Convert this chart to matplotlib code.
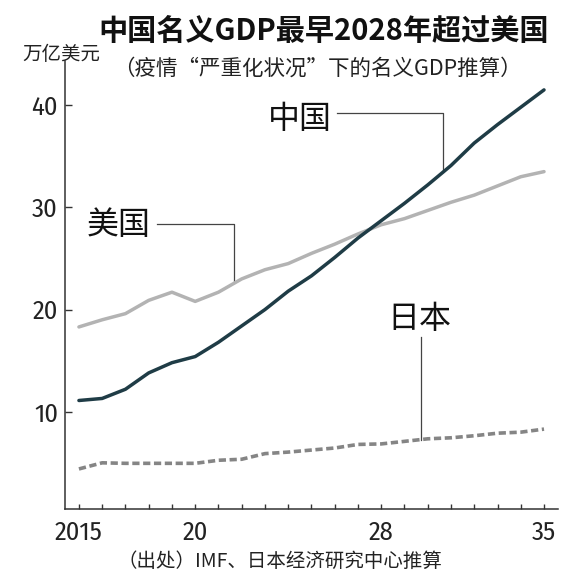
import numpy as np
import matplotlib
matplotlib.use("Agg")
import matplotlib.pyplot as plt
from matplotlib import font_manager as fm

plt.rcParams['font.family'] = ['Noto Sans CJK SC', 'DejaVu Sans']

years = list(range(2015, 2036))
china = [11.1, 11.3, 12.2, 13.8, 14.8, 15.4, 16.8, 18.4, 20.0, 21.8, 23.3,
         25.1, 27.0, 28.7, 30.4, 32.2, 34.1, 36.3, 38.1, 39.8, 41.5]
usa = [18.3, 19.0, 19.6, 20.9, 21.7, 20.8, 21.7, 23.0, 23.9, 24.5, 25.5,
       26.4, 27.4, 28.3, 28.9, 29.7, 30.5, 31.2, 32.1, 33.0, 33.5]
japan = [4.4, 5.0, 4.95, 4.95, 4.95, 4.95, 5.25, 5.35, 5.9, 6.05, 6.25,
         6.45, 6.8, 6.85, 7.1, 7.35, 7.45, 7.65, 7.9, 8.0, 8.3]

series_names = ['中国', '美国', '日本']
yticks = [10, 20, 30, 40]
xtick_pos = [2015, 2020, 2028, 2035]
xtick_labels = ['2015', '20', '28', '35']

title = '中国名义GDP最早2028年超过美国'
subtitle = '（疫情“严重化状况”下的名义GDP推算）'
unit = '万亿美元'
source = '（出处）IMF、日本经济研究中心推算'

available = {f.name for f in fm.fontManager.ttflist}
narrow_pref = ['Fira Sans Condensed', 'PT Sans Narrow', 'Roboto Condensed',
               'Liberation Sans Narrow', 'Archivo Narrow', 'Encode Sans Condensed']
narrow = next((n for n in narrow_pref if n in available), 'DejaVu Sans')
tick_font = [narrow, 'DejaVu Sans']

fig = plt.figure(figsize=(5.76, 5.82), dpi=100)
ax = fig.add_axes([0.1128, 0.1249, 0.8559, 0.7698])

c_china = '#1f3c46'
c_us = '#b3b3b3'
c_jp = '#858585'

ax.plot(years, usa, color=c_us, lw=2.5, solid_capstyle='round', zorder=3)
ax.plot(years, china, color=c_china, lw=2.5, solid_capstyle='round', zorder=4)
ax.plot(years, japan, color=c_jp, lw=2.6, dashes=(2.0, 1.0), zorder=3)

ax.set_xlim(2014.40, 2035.60)
ax.set_ylim(0.45, 44.3)

for s in ['top', 'right']:
    ax.spines[s].set_visible(False)
for s in ['left', 'bottom']:
    ax.spines[s].set_color('#333333')
    ax.spines[s].set_linewidth(1.1)

ax.set_xticks(years, minor=True)
ax.set_xticks(xtick_pos)
ax.set_xticklabels(xtick_labels, family=tick_font, fontsize=19, color='#222222')
ax.set_yticks(yticks)
ax.set_yticklabels([str(v) for v in yticks], family=tick_font, fontsize=19, color='#222222')
ax.tick_params(axis='x', which='both', direction='in', length=3.8, width=1.0,
               color='#333333', pad=8)
ax.tick_params(axis='y', which='both', direction='in', length=5, width=1.0,
               color='#333333', pad=5)

lead = dict(color='#444444', lw=0.9, zorder=2)
label_kw = dict(fontsize=23, fontweight='light', ha='center', va='center', color='#111111')

# China label and leader
cx = 2030.67
cy = np.interp(cx, years, china)
ax.text(2024.5, 38.7, series_names[0], **label_kw)
ax.plot([2026.08, cx, cx], [39.2, 39.2, cy], **lead)

# US label and leader
ux = 2021.67
uy = np.interp(ux, years, usa)
ax.text(2016.72, 28.27, series_names[1], **label_kw)
ax.plot([2018.34, ux, ux], [28.34, 28.34, uy], **lead)

# Japan label and leader
jx = 2029.69
jy = np.interp(jx, years, japan)
ax.text(2029.62, 19.07, series_names[2], **label_kw)
ax.plot([jx, jx], [17.34, jy], **lead)

fig.text(0.5616, 0.9467, title, fontsize=21, fontweight='bold', ha='center', va='center', color='#111111')
fig.text(0.5504, 0.8814, subtitle, fontsize=15.5, ha='center', va='center', color='#222222')
fig.text(0.1068, 0.9055, unit, fontsize=14, ha='center', va='center', color='#222222')
fig.text(0.486, 0.0349, source, fontsize=14, ha='center', va='center', color='#222222')

fig.savefig('out.png', dpi=100, facecolor='white')
